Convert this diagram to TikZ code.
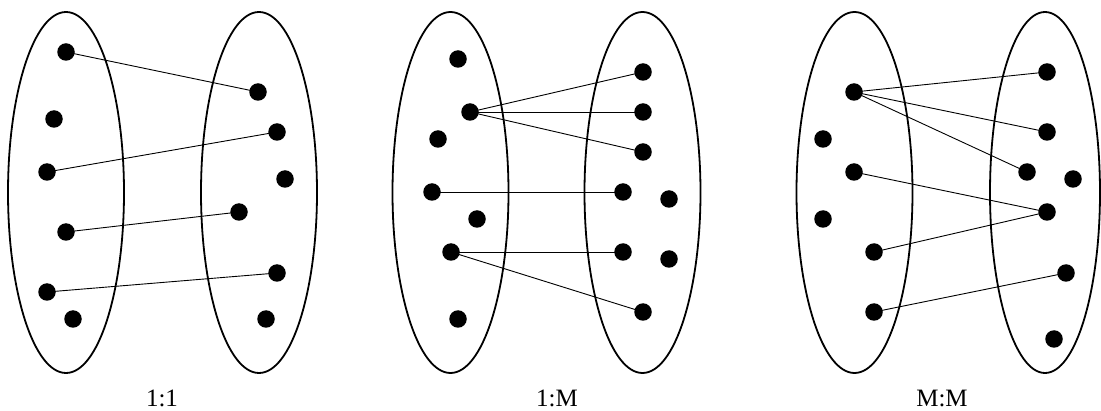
\documentclass[tikz,border=0pt]{standalone}
\usepackage{fontspec}
\setmainfont{Liberation Serif}
\begin{document}
\begin{tikzpicture}[x=1pt, y=1pt, line cap=round, line join=round,
  punto/.style={circle, fill=black, inner sep=0pt, minimum size=17.5pt},
  conjunto/.style={line width=1.8pt},
  enlace/.style={line width=0.9pt},
  rotulo/.style={anchor=base, font=\fontsize{25}{30}\selectfont}]
  \useasboundingbox (0,0) rectangle (1101,410);
  % 1:1 -- conjuntos
  \draw[conjunto] (66,217.5) ellipse (58 and 180.5);
  \draw[conjunto] (259,217.5) ellipse (58 and 180.5);
  % puntos
  \node[punto] (a1) at (66,358) {};
  \node[punto] (a2) at (54,291) {};
  \node[punto] (a3) at (47,238) {};
  \node[punto] (a4) at (66,178) {};
  \node[punto] (a5) at (47,118) {};
  \node[punto] (a6) at (73,91) {};
  \node[punto] (b1) at (258,318) {};
  \node[punto] (b2) at (277,278) {};
  \node[punto] (b3) at (285,231) {};
  \node[punto] (b4) at (239,198) {};
  \node[punto] (b5) at (277,137) {};
  \node[punto] (b6) at (266,91) {};
  % enlaces
  \draw[enlace] (a1.center) -- (b1.center);
  \draw[enlace] (a3.center) -- (b2.center);
  \draw[enlace] (a4.center) -- (b4.center);
  \draw[enlace] (a5.center) -- (b5.center);
  \node[rotulo] (t1) at (162,3.5) {1:1};
  % 1:M -- conjuntos
  \draw[conjunto] (450.5,217.5) ellipse (58 and 180.5);
  \draw[conjunto] (642.5,217.5) ellipse (58 and 180.5);
  % puntos
  \node[punto] (c1) at (458,351) {};
  \node[punto] (c2) at (470,298) {};
  \node[punto] (c3) at (438,271) {};
  \node[punto] (c4) at (432,218) {};
  \node[punto] (c5) at (477,191) {};
  \node[punto] (c6) at (451,158) {};
  \node[punto] (c7) at (458,91) {};
  \node[punto] (d1) at (643,338) {};
  \node[punto] (d2) at (643,298) {};
  \node[punto] (d3) at (643,258) {};
  \node[punto] (d4) at (623,218) {};
  \node[punto] (d5) at (669,211) {};
  \node[punto] (d6) at (623,158) {};
  \node[punto] (d7) at (669,151) {};
  \node[punto] (d8) at (643,98) {};
  % enlaces
  \draw[enlace] (c2.center) -- (d1.center);
  \draw[enlace] (c2.center) -- (d2.center);
  \draw[enlace] (c2.center) -- (d3.center);
  \draw[enlace] (c4.center) -- (d4.center);
  \draw[enlace] (c6.center) -- (d6.center);
  \draw[enlace] (c6.center) -- (d8.center);
  \node[rotulo] (t2) at (557,3.5) {1:M};
  % M:M -- conjuntos
  \draw[conjunto] (854.5,217.5) ellipse (58 and 180.5);
  \draw[conjunto] (1045,217.5) ellipse (55 and 180.5);
  % puntos
  \node[punto] (e1) at (854,318) {};
  \node[punto] (e2) at (823,271) {};
  \node[punto] (e3) at (854,238) {};
  \node[punto] (e4) at (823,191) {};
  \node[punto] (e5) at (874,158) {};
  \node[punto] (e6) at (874,98) {};
  \node[punto] (f1) at (1047,338) {};
  \node[punto] (f2) at (1047,278) {};
  \node[punto] (f3) at (1027,238) {};
  \node[punto] (f4) at (1073,231) {};
  \node[punto] (f5) at (1047,198) {};
  \node[punto] (f6) at (1066,137) {};
  \node[punto] (f7) at (1054,71) {};
  % enlaces
  \draw[enlace] (e1.center) -- (f1.center);
  \draw[enlace] (e1.center) -- (f2.center);
  \draw[enlace] (e1.center) -- (f3.center);
  \draw[enlace] (e3.center) -- (f5.center);
  \draw[enlace] (e5.center) -- (f5.center);
  \draw[enlace] (e6.center) -- (f6.center);
  \node[rotulo] (t3) at (942,3.5) {M:M};
\end{tikzpicture}
\end{document}
